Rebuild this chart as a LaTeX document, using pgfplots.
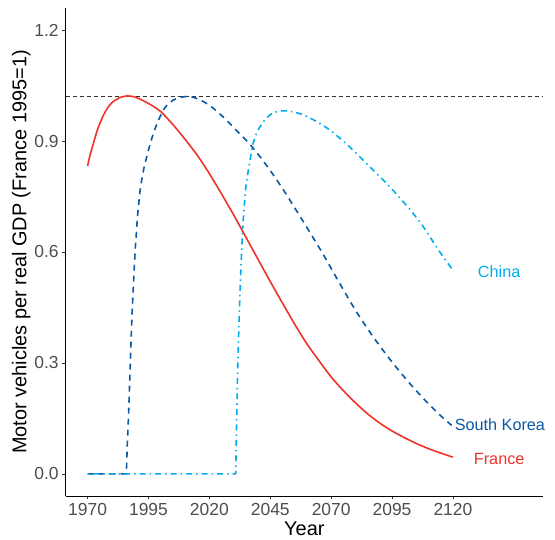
\documentclass[border=0pt]{standalone}
\usepackage{pgfplots}
\pgfplotsset{compat=1.18}
\usepackage{fontspec}
\setmainfont{Liberation Sans}
\definecolor{fr}{RGB}{239,51,43}
\definecolor{sk}{RGB}{11,88,164}
\definecolor{cn}{RGB}{0,174,239}
\definecolor{tickgray}{RGB}{77,77,77}
\begin{document}
\begin{tikzpicture}[x=1bp,y=1bp]
\path[use as bounding box] (0,0) rectangle (555,540);
\begin{axis}[
  at={(65.7bp,44bp)}, anchor=south west,
  scale only axis, width=477.3bp, height=488bp,
  xmin=1961, xmax=2157, ymin=-0.06, ymax=1.26,
  clip=false,
  axis x line*=bottom, axis y line*=left,
  axis line style={-, line width=0.6bp, black},
  xtick={1970,1995,2020,2045,2070,2095,2120},
  ytick={0,0.3,0.6,0.9,1.2},
  yticklabels={0.0,0.3,0.6,0.9,1.2},
  /pgf/number format/1000 sep={},
  /pgf/number format/assume math mode=true,
  tick align=outside, major tick length=3.5bp,
  tick style={line width=0.6bp, black!80},
  ticklabel style={font=\fontsize{17.5}{20}\selectfont, text=tickgray},
  xlabel={Year}, ylabel={Motor vehicles per real GDP (France 1995=1)},
  label style={font=\fontsize{20}{24}\selectfont},
  ylabel style={yshift=-3bp},
]
% reference line
\addplot[black!80, line width=0.6bp, dash pattern=on 4bp off 3bp] coordinates {(1961,1.022) (2157,1.022)};
% France
\addplot[fr, line width=1.6bp, smooth, tension=0.4] coordinates {
(1970,0.833) (1971,0.862) (1972,0.885) (1974,0.930) (1976,0.963) (1978,0.988)
(1980,1.004) (1983,1.017) (1986,1.022) (1989,1.020) (1992,1.012) (1996,0.998)
(2000,0.980) (2005,0.945) (2010,0.905) (2015,0.862) (2020,0.812) (2025,0.757)
(2030,0.700) (2035,0.640) (2040,0.580) (2045,0.520) (2050,0.462) (2055,0.405)
(2060,0.352) (2065,0.306) (2070,0.262) (2075,0.225) (2080,0.192) (2085,0.162)
(2090,0.137) (2095,0.116) (2100,0.098) (2105,0.082) (2110,0.068) (2115,0.056)
(2120,0.045)};
% South Korea
\addplot[sk, line width=1.6bp, dash pattern=on 6bp off 5bp] coordinates {
(1970,0) (1985.9,0) (1986.3,0.08) (1986.8,0.157) (1987.5,0.292) (1988.2,0.427)
(1988.85,0.517) (1989.55,0.607) (1990.5,0.697)};
\addplot[sk, line width=1.6bp, dash pattern=on 6bp off 5bp, smooth, tension=0.4] coordinates {
(1990.5,0.697) (1991.6,0.769) (1993,0.823)
(1995,0.876) (1997,0.921) (1999,0.955) (2001.1,0.984) (2003,1.000) (2005.2,1.011)
(2008,1.018) (2011.4,1.021) (2014.5,1.016) (2017.5,1.007) (2021,0.992)
(2024.4,0.973) (2028,0.950) (2032,0.923) (2036.7,0.891) (2041,0.856)
(2046.2,0.809) (2050,0.772) (2053.1,0.740) (2056.5,0.704) (2060,0.667)
(2066.7,0.594) (2073.6,0.514) (2080.4,0.438) (2087.2,0.371) (2094.1,0.310)
(2100.9,0.255) (2107.7,0.205) (2114.5,0.160) (2119.5,0.131)};
% China
\addplot[cn, line width=1.6bp, dash pattern=on 1.5bp off 4bp on 6bp off 4bp] coordinates {
(1970,0) (2030.8,0) (2031.2,0.146) (2031.6,0.281) (2032.2,0.416) (2032.9,0.551)
(2033.7,0.668)};
\addplot[cn, line width=1.6bp, dash pattern=on 1.5bp off 4bp on 6bp off 4bp, smooth, tension=0.4] coordinates {
(2033.7,0.668) (2035,0.777) (2036.7,0.849) (2038,0.894) (2039.3,0.920)
(2040.8,0.939) (2042.8,0.957) (2044.9,0.971) (2048,0.980) (2051,0.982)
(2054.5,0.979) (2058.5,0.971) (2064,0.953) (2069.4,0.930) (2075.5,0.897)
(2081.7,0.858) (2087,0.823) (2092.7,0.786) (2098,0.748) (2103.6,0.705)
(2108.5,0.662) (2113.2,0.614) (2116,0.587) (2119.5,0.555)};
\node[text=cn, font=\fontsize{16.3}{19}\selectfont] at (axis cs:2139,0.547) {China};
\node[text=sk, font=\fontsize{16.3}{19}\selectfont] at (axis cs:2139.3,0.132) {South Korea};
\node[text=fr, font=\fontsize{16.3}{19}\selectfont] at (axis cs:2139,0.040) {France};
\end{axis}
\end{tikzpicture}
\end{document}
